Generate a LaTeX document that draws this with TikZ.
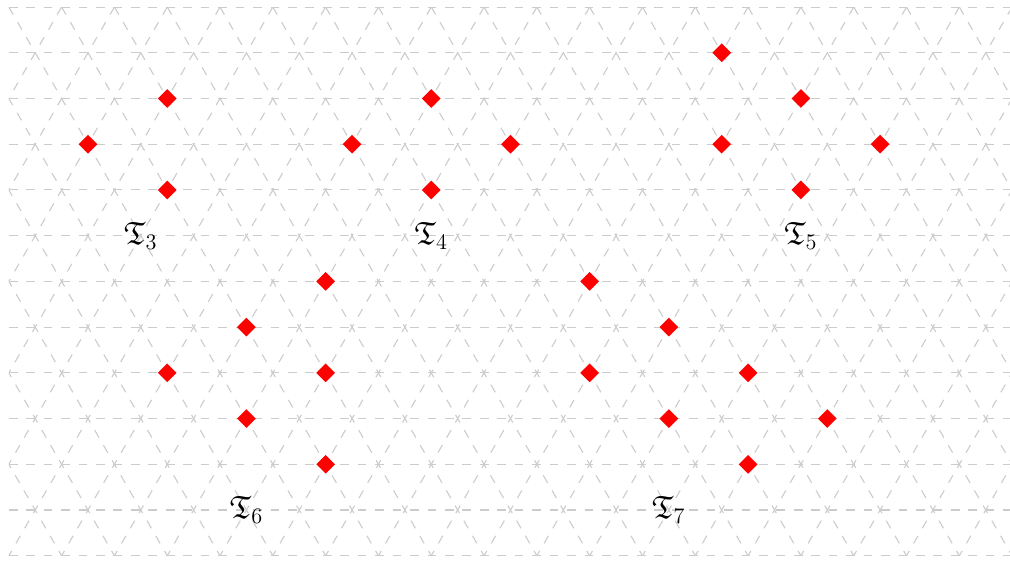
\documentclass[tikz,border=0pt]{standalone}
\usepackage{amssymb}
\usetikzlibrary{shapes.geometric}

\begin{document}
\begin{tikzpicture}[
  x=1cm, y=-0.866cm,
  gridline/.style={dash pattern=on 4.7pt off 4.7pt, draw=gray!40, line width=0.6pt},
  site/.style={diamond, fill=red, inner sep=0pt,
               minimum width=3.6mm, minimum height=3.6mm},
  tag/.style={font=\LARGE},
]
\useasboundingbox (-1.667,-0.153) rectangle (17.46,12.153);

% ---- triangular lattice ----
\begin{scope}
  \clip (-1.5,0) rectangle (17.5,12);
  \foreach \k in {0,...,12}
    \draw[gridline] (-1.5,\k) -- (17.5,\k);
  \foreach \c in {-2,...,23}
    \draw[gridline] (\c+0.5,0) -- (\c-5.5,12);
  \foreach \c in {-8,...,17}
    \draw[gridline] (\c+0.5,0) -- (\c+6.5,12);
\end{scope}

% ---- T3 ----
\node[site] (t3a) at (1.5,2) {};
\node[site] (t3b) at (0,3)   {};
\node[site] (t3c) at (1.5,4) {};
\node[tag]  (lab3) at (1,5) {$\mathfrak{T}_3$};

% ---- T4 ----
\node[site] (t4a) at (6.5,2) {};
\node[site] (t4b) at (5,3)   {};
\node[site] (t4c) at (8,3)   {};
\node[site] (t4d) at (6.5,4) {};
\node[tag]  (lab4) at (6.5,5) {$\mathfrak{T}_4$};

% ---- T5 ----
\node[site] (t5a) at (12,1)   {};
\node[site] (t5b) at (13.5,2) {};
\node[site] (t5c) at (12,3)   {};
\node[site] (t5d) at (15,3)   {};
\node[site] (t5e) at (13.5,4) {};
\node[tag]  (lab5) at (13.5,5) {$\mathfrak{T}_5$};

% ---- T6 ----
\node[site] (t6a) at (4.5,6)  {};
\node[site] (t6b) at (3,7)    {};
\node[site] (t6c) at (1.5,8)  {};
\node[site] (t6d) at (4.5,8)  {};
\node[site] (t6e) at (3,9)    {};
\node[site] (t6f) at (4.5,10) {};
\node[tag]  (lab6) at (3,11) {$\mathfrak{T}_6$};

% ---- T7 ----
\node[site] (t7a) at (9.5,6)   {};
\node[site] (t7b) at (11,7)    {};
\node[site] (t7c) at (9.5,8)   {};
\node[site] (t7d) at (12.5,8)  {};
\node[site] (t7e) at (11,9)    {};
\node[site] (t7f) at (14,9)    {};
\node[site] (t7g) at (12.5,10) {};
\node[tag]  (lab7) at (11,11) {$\mathfrak{T}_7$};

\end{tikzpicture}
\end{document}
